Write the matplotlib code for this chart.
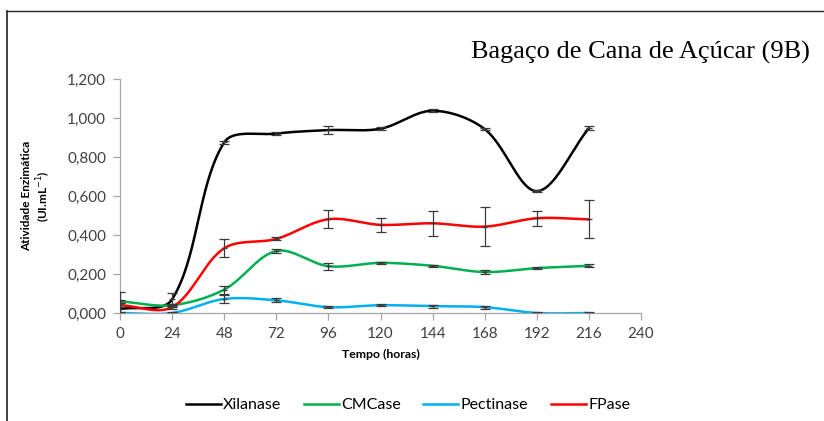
import numpy as np
import matplotlib
matplotlib.use("Agg")
import matplotlib.pyplot as plt
from matplotlib.lines import Line2D

hours = [0, 24, 48, 72, 96, 120, 144, 168, 192, 216]
xilanase = [0.020, 0.070, 0.875, 0.920, 0.938, 0.945, 1.037, 0.943, 0.625, 0.948]
xilanase_err = [0.090, 0.035, 0.006, 0.006, 0.022, 0.008, 0.008, 0.006, 0.006, 0.012]
cmcase = [0.060, 0.040, 0.120, 0.318, 0.240, 0.257, 0.242, 0.210, 0.230, 0.242]
cmcase_err = [0.008, 0.008, 0.020, 0.008, 0.018, 0.006, 0.006, 0.008, 0.006, 0.008]
pectinase = [0.000, 0.000, 0.072, 0.065, 0.030, 0.040, 0.035, 0.030, 0.000, 0.000]
pectinase_err = [0.004, 0.006, 0.020, 0.010, 0.006, 0.005, 0.008, 0.008, 0.004, 0.004]
fpase = [0.040, 0.030, 0.332, 0.380, 0.481, 0.452, 0.460, 0.443, 0.486, 0.480]
fpase_err = [0.010, 0.012, 0.045, 0.008, 0.047, 0.037, 0.065, 0.100, 0.038, 0.097]

series_names = ["Xilanase", "CMCase", "Pectinase", "FPase"]
series_vals = [xilanase, cmcase, pectinase, fpase]
series_errs = [xilanase_err, cmcase_err, pectinase_err, fpase_err]
colors = ["#000000", "#00B050", "#00B0F0", "#FF0000"]

xticks = [0, 24, 48, 72, 96, 120, 144, 168, 192, 216, 240]
yticks = [0.0, 0.2, 0.4, 0.6, 0.8, 1.0, 1.2]
ytick_labels = ["0,000", "0,200", "0,400", "0,600", "0,800", "1,000", "1,200"]

fig = plt.figure(figsize=(8.24, 4.21), dpi=100)
ax = fig.add_axes([120 / 824, 1 - 313 / 421, 521 / 824, 234 / 421])
ax.set_xlim(0, 240)
ax.set_ylim(0, 1.2)


def smooth(x, y, n=60):
    # Excel-like smoothed line: cubic Bezier, chord-length weighted tangents (in pixel space)
    pts = ax.transData.transform(np.column_stack([x, y]))
    d = np.hypot(*np.diff(pts, axis=0).T)
    out = []
    m = len(pts)
    for i in range(m - 1):
        p1, p2 = pts[i], pts[i + 1]
        if i > 0:
            p0 = pts[i - 1]
            c1 = p1 + (p2 - p0) / 3.0 * d[i] / (d[i - 1] + d[i])
        else:
            c1 = p1 + (p2 - p1) / 3.0
        if i + 2 < m:
            p3 = pts[i + 2]
            c2 = p2 - (p3 - p1) / 3.0 * d[i] / (d[i] + d[i + 1])
        else:
            c2 = p2 - (p2 - p1) / 3.0
        t = np.linspace(0, 1, n)[:, None]
        seg = ((1 - t) ** 3) * p1 + 3 * ((1 - t) ** 2) * t * c1 + 3 * (1 - t) * t ** 2 * c2 + t ** 3 * p2
        out.append(seg if i == 0 else seg[1:])
    s = ax.transData.inverted().transform(np.vstack(out))
    return s[:, 0], s[:, 1]


for name, vals, c in zip(series_names, series_vals, colors):
    sx, sy = smooth(hours, vals)
    ax.plot(sx, sy, color=c, lw=1.8, solid_capstyle="round", zorder=3)
for vals, errs in zip(series_vals, series_errs):
    ax.errorbar(hours, vals, yerr=errs, fmt="none", ecolor="#3a3a3a",
                elinewidth=0.9, capsize=3.5, capthick=0.9, zorder=4)
    ax.errorbar(hours, vals, xerr=1.2, fmt="none", ecolor="#3a3a3a",
                elinewidth=0.9, capsize=0, zorder=4)

ax.set_xticks(xticks)
ax.set_xticklabels([str(v) for v in xticks])
ax.set_yticks(yticks)
ax.set_yticklabels(ytick_labels)
for sp in ["top", "right"]:
    ax.spines[sp].set_visible(False)
for sp in ["left", "bottom"]:
    ax.spines[sp].set_color("#a6a6a6")
    ax.spines[sp].set_linewidth(0.9)
ax.tick_params(axis="both", direction="out", length=5, width=0.9, color="#a6a6a6",
               labelsize=11, labelcolor="#404040", pad=5)
for lab in ax.get_xticklabels() + ax.get_yticklabels():
    lab.set_family("Lato")

ax.set_xlabel("Tempo (horas)", fontsize=8.8, fontweight="bold", family="Lato", labelpad=6)
ax.set_ylabel("Atividade Enzimática\n(UI.mL$^{-1}$)", fontsize=8.5, fontweight="bold",
              family="Lato", labelpad=10, linespacing=1.25)

fig.text(0.983, 0.876, "Bagaço de Cana de Açúcar (9B)", ha="right", va="center",
         fontsize=19, family="Liberation Serif", color="black")

handles = [Line2D([0], [0], color=c, lw=1.8) for c in colors]
fig.legend(handles, series_names, loc="center", bbox_to_anchor=(0.495, 0.038), ncol=4,
           frameon=False, prop={"family": "Lato", "size": 11.5}, handlelength=2.2,
           handletextpad=0.15, columnspacing=1.4)

# figure border lines (top and left)
fig.add_artist(Line2D([7 / 824, 1.0], [1 - 11 / 421, 1 - 11 / 421], color="#222222", lw=1.0,
                      transform=fig.transFigure))
fig.add_artist(Line2D([7 / 824, 7 / 824], [0.0, 1 - 11 / 421], color="#222222", lw=1.2,
                      transform=fig.transFigure))

fig.savefig("out.png", dpi=100)
